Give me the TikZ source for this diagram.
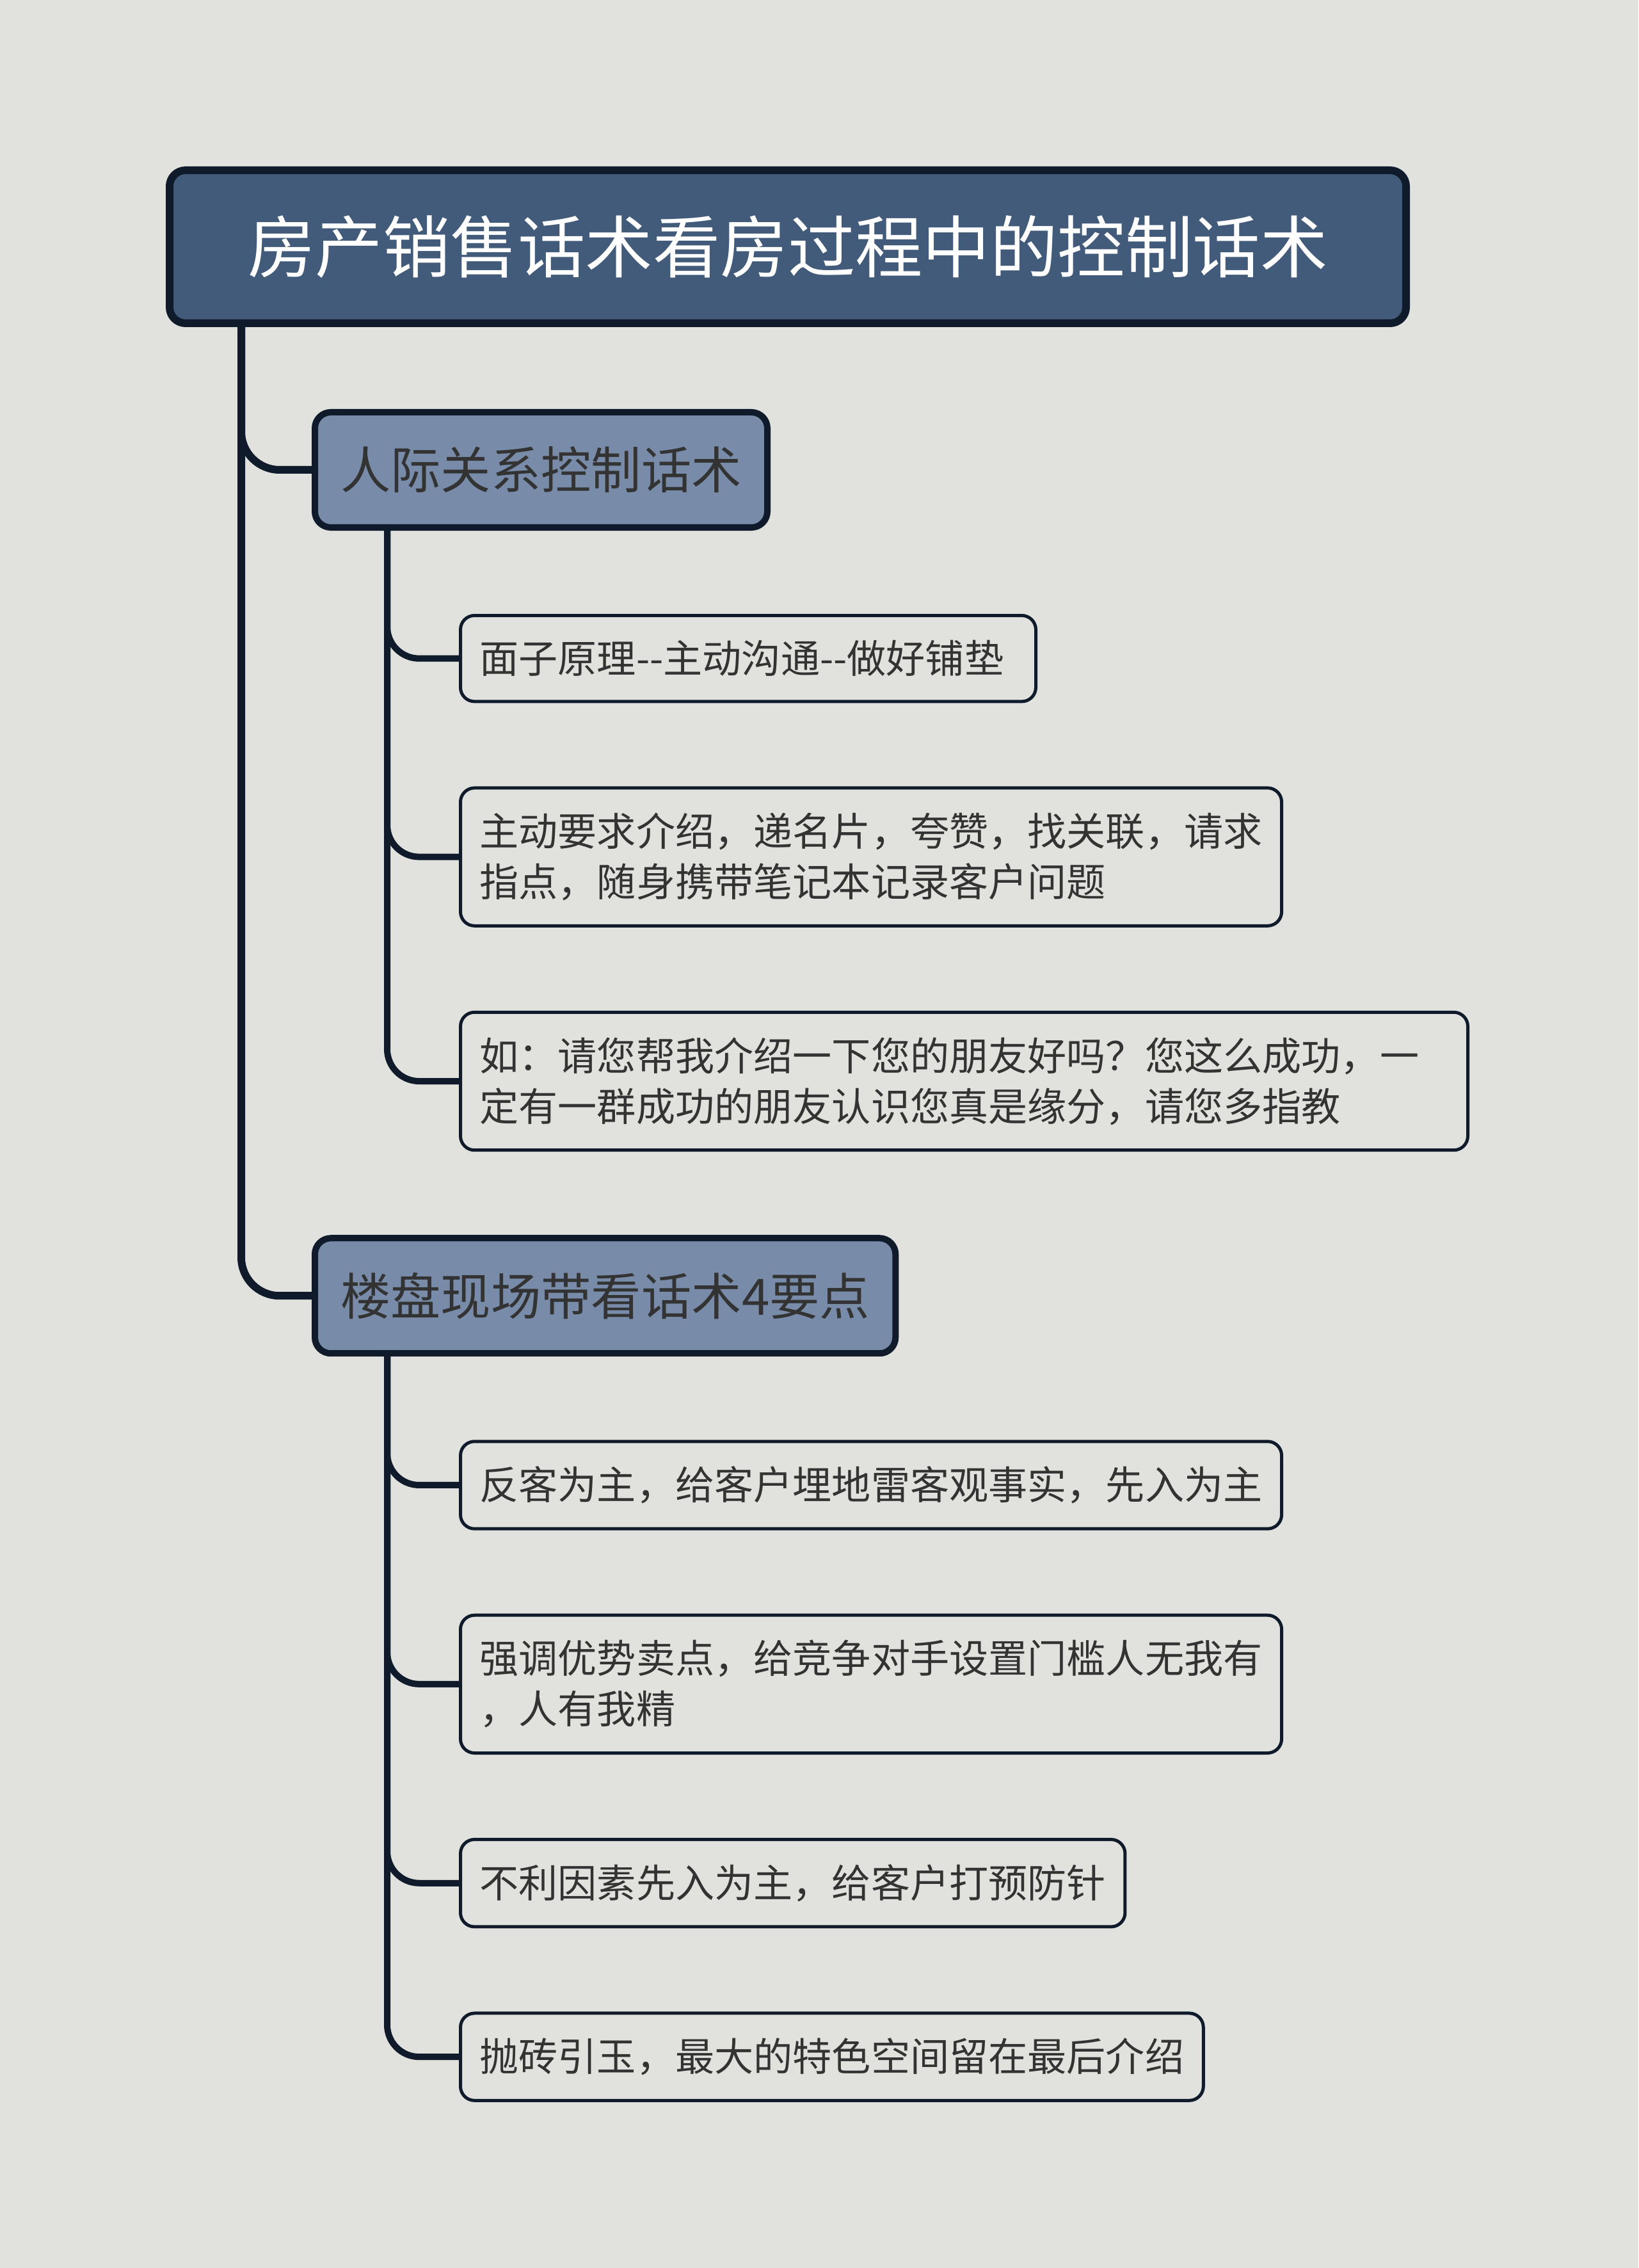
\documentclass[tikz,border=0pt]{standalone}
\usepackage{fontspec}
\usepackage{tikz}
\usetikzlibrary{positioning,calc}
\newfontfamily\cjk{Noto Sans CJK SC}
\definecolor{fondo}{HTML}{E1E2DE}
\definecolor{darkline}{HTML}{0F1B2B}
\definecolor{rootblue}{HTML}{435B7A}
\definecolor{subblue}{HTML}{788CAA}
\definecolor{txtgray}{HTML}{333333}

\begin{document}
\begin{tikzpicture}[
			node distance=1.3cm,
			title/.style={draw=darkline,line width=0.12cm,fill=rootblue,rounded corners=0.25cm,minimum width=19.32cm,minimum height=2.39cm,text=white,font=\cjk\fontsize{30}{36}\selectfont},
			topic/.style={draw=darkline,line width=0.1cm,fill=subblue,rounded corners=0.25cm,minimum height=1.8cm,inner xsep=0.4cm,text=txtgray,font=\cjk\fontsize{22.3}{28}\selectfont},
			leaf/.style={draw=darkline,line width=0.05cm,rounded corners=0.22cm,minimum height=1.34cm,inner xsep=0.3cm,inner ysep=0.39cm,align=left,text=txtgray,font=\cjk\fontsize{17.4}{22.5}\selectfont},
			trunk/.style={darkline,line width=0.12cm,rounded corners=0.6cm},
			twig/.style={darkline,line width=0.1cm,rounded corners=0.5cm}
			]
			\fill[fondo] (0,0) rectangle (25.6,-35.43);
			\node[title] (tit) at (12.31,-3.855) {房产销售话术看房过程中的控制话术};
			\node[topic] (rel) [below=1.28cm of tit.south west,anchor=north west,xshift=2.28cm] {人际关系控制话术};
			\node[leaf,text width=8.39cm] (mz) [below=of rel.south west,anchor=north west,xshift=2.3cm] {面子原理-{}-主动沟通-{}-做好铺垫};
			\node[leaf] (zd) [below=of mz.south west,anchor=north west] {主动要求介绍，递名片，夸赞，找关联，请求\\指点，随身携带笔记本记录客户问题};
			\node[leaf,text width=15.14cm] (rq) [below=of zd.south west,anchor=north west] {如：请您帮我介绍一下您的朋友好吗？您这么成功，一\\定有一群成功的朋友认识您真是缘分，请您多指教};
			\node[topic] (lp) [below=of rq.south west,anchor=north west,xshift=-2.3cm] {楼盘现场带看话术4要点};
			\node[leaf] (fk) [below=of lp.south west,anchor=north west,xshift=2.3cm] {反客为主，给客户埋地雷客观事实，先入为主};
			\node[leaf] (qd) [below=of fk.south west,anchor=north west] {强调优势卖点，给竞争对手设置门槛人无我有\\，人有我精};
			\node[leaf] (bl) [below=of qd.south west,anchor=north west] {不利因素先入为主，给客户打预防针};
			\node[leaf] (pz) [below=of bl.south west,anchor=north west] {抛砖引玉，最大的特色空间留在最后介绍};
			\foreach \t in {rel,lp}
				\draw[trunk] ([xshift=1.18cm]tit.south west) |- (\t.west);
			\foreach \h in {mz,zd,rq}
				\draw[twig] ([xshift=1.18cm]rel.south west) |- (\h.west);
			\foreach \h in {fk,qd,bl,pz}
				\draw[twig] ([xshift=1.18cm]lp.south west) |- (\h.west);
		\end{tikzpicture}
\end{document}
